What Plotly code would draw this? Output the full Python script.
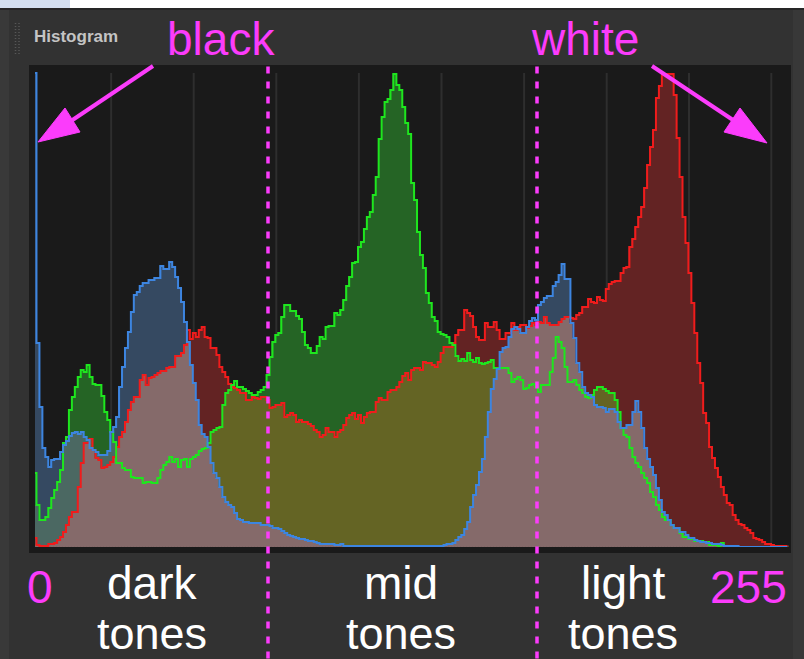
import plotly.graph_objects as go

# ---------------- data (histogram heights, 256 levels) ----------------
levels = list(range(256))

red = [9, 2, 1, 1, 1, 3, 3, 4, 7, 10, 15, 22, 30, 35, 35, 60,
       84, 104, 104, 108, 97, 89, 87, 79, 80, 82, 85, 90, 100, 110, 115, 125,
       137, 145, 150, 150, 167, 172, 162, 169, 170, 172, 174, 176, 176, 179, 180, 180,
       191, 191, 194, 202, 217, 208, 214, 210, 217, 220, 210, 209, 199, 199, 192, 180,
       175, 170, 163, 160, 159, 157, 154, 154, 147, 147, 150, 149, 148, 150, 150, 147,
       139, 140, 142, 142, 144, 130, 132, 134, 132, 125, 127, 125, 125, 123, 121, 117,
       115, 110, 112, 119, 115, 115, 110, 115, 117, 122, 129, 132, 134, 128, 132, 124,
       130, 134, 135, 135, 145, 149, 147, 147, 155, 157, 157, 160, 165, 171, 174, 167,
       177, 179, 179, 177, 185, 184, 184, 182, 180, 185, 194, 200, 200, 200, 204, 212,
       217, 217, 237, 234, 231, 220, 210, 207, 207, 224, 220, 220, 225, 217, 208, 208,
       214, 214, 224, 217, 220, 222, 222, 219, 221, 224, 222, 225, 224, 230, 224, 222,
       222, 222, 225, 228, 230, 230, 229, 228, 232, 234, 240, 240, 248, 245, 244, 250,
       247, 246, 258, 263, 265, 266, 266, 274, 279, 280, 300, 308, 320, 330, 340, 359,
       382, 400, 417, 449, 461, 473, 473, 473, 473, 452, 409, 370, 330, 304, 274, 244,
       214, 184, 164, 134, 124, 100, 89, 79, 70, 60, 52, 44, 42, 32, 27, 23,
       22, 19, 17, 14, 9, 8, 7, 5, 3, 3, 2, 1, 1, 1, 1, 1]

green = [74, 42, 27, 27, 30, 39, 49, 57, 65, 77, 104, 110, 137, 150, 160, 170,
         177, 175, 182, 170, 163, 162, 162, 151, 135, 127, 115, 105, 84, 84, 79, 77,
         77, 70, 69, 69, 69, 64, 65, 65, 64, 64, 69, 77, 82, 85, 90, 85,
         88, 80, 87, 88, 80, 88, 90, 92, 96, 98, 99, 104, 115, 117, 119, 120,
         142, 154, 157, 162, 166, 160, 160, 158, 156, 154, 152, 152, 155, 157, 160, 172,
         190, 205, 212, 214, 230, 242, 242, 236, 236, 231, 228, 215, 202, 199, 194, 194,
         201, 210, 208, 220, 221, 221, 234, 232, 237, 247, 261, 270, 284, 285, 300, 305,
         318, 330, 335, 352, 370, 408, 430, 445, 448, 457, 473, 462, 457, 440, 424, 413,
         364, 347, 315, 292, 279, 254, 244, 230, 226, 215, 213, 212, 210, 204, 202, 191,
         186, 188, 186, 194, 187, 185, 189, 184, 183, 184, 185, 187, 179, 179, 179, 179,
         179, 174, 165, 168, 170, 167, 158, 159, 162, 163, 160, 155, 162, 162, 162, 175,
         189, 210, 205, 199, 180, 165, 165, 167, 162, 157, 154, 150, 149, 152, 157, 160,
         160, 158, 156, 154, 154, 147, 135, 119, 112, 110, 99, 90, 84, 80, 74, 69,
         64, 55, 50, 42, 37, 30, 27, 27, 22, 19, 19, 14, 10, 10, 8, 8,
         6, 6, 6, 5, 5, 2, 2, 2, 1, 4, 0, 0, 0, 0, 0, 0,
         0, 0, 0, 0, 0, 0, 0, 0, 0, 0, 0, 0, 0, 0, 0, 0]

blue = [474, 204, 140, 99, 90, 80, 87, 88, 88, 95, 102, 106, 111, 114, 115, 113,
        115, 110, 107, 99, 97, 95, 92, 92, 92, 96, 115, 120, 130, 160, 180, 199,
        215, 235, 252, 255, 261, 264, 264, 267, 267, 269, 269, 281, 278, 278, 285, 280,
        270, 259, 245, 225, 205, 182, 164, 147, 122, 113, 110, 100, 84, 74, 69, 60,
        50, 45, 42, 40, 34, 28, 27, 25, 25, 24, 24, 24, 24, 22, 22, 22,
        21, 19, 19, 18, 16, 14, 12, 11, 10, 9, 8, 8, 7, 6, 6, 5,
        4, 3, 3, 3, 3, 3, 2, 2, 3, 1, 1, 1, 1, 1, 1, 1,
        1, 1, 1, 1, 1, 1, 1, 1, 1, 1, 1, 1, 1, 1, 1, 1,
        1, 1, 1, 1, 1, 1, 1, 1, 1, 1, 1, 2, 3, 3, 4, 7,
        10, 12, 18, 25, 40, 52, 62, 75, 88, 110, 135, 158, 168, 178, 195, 199,
        200, 210, 218, 220, 218, 214, 214, 220, 226, 229, 227, 242, 245, 249, 251, 251,
        261, 265, 272, 283, 268, 268, 224, 209, 184, 175, 160, 154, 152, 150, 142, 140,
        140, 139, 135, 138, 138, 135, 125, 119, 119, 122, 122, 135, 146, 135, 119, 99,
        88, 80, 72, 59, 47, 35, 32, 27, 22, 19, 19, 15, 15, 12, 9, 9,
        7, 6, 5, 5, 4, 4, 3, 3, 3, 2, 1, 1, 1, 1, 1, 0,
        0, 0, 0, 0, 0, 0, 0, 0, 0, 0, 0, 0, 0, 0, 0, 0]

grid_levels = [25.8, 53.8, 81.8, 109.8, 137.8, 165.8, 193.8, 221.7, 249.6]

# ---------------- styling ----------------
PANEL = "#323232"
PLOT_BG = "#1a1a1a"
GRID = "#2e2e2e"
MAGENTA = "#fb3cfb"

LINE_R = "#f01c1c"
LINE_G = "#1ee61e"
LINE_B = "#3d85e0"

PINK = "#856a6a"
COMBO = {
    frozenset("r"): "#632323",
    frozenset("g"): "#256425",
    frozenset("b"): "#354961",
    frozenset("rg"): "#646424",
    frozenset("rb"): PINK,
    frozenset("gb"): "#4b6862",
}

# overlap segments per level (computed from the three channels)
seg_base = [[], [], []]
seg_len = [[], [], []]
seg_col = [[], [], []]
for i in levels:
    vals = {"r": red[i], "g": green[i], "b": blue[i]}
    order = sorted(vals, key=lambda k: vals[k], reverse=True)
    top, mid, low = order
    seg_base[0].append(0)
    seg_len[0].append(vals[low])
    seg_col[0].append(PINK)
    seg_base[1].append(vals[low])
    seg_len[1].append(vals[mid] - vals[low])
    seg_col[1].append(COMBO[frozenset(top + mid)])
    seg_base[2].append(vals[mid])
    seg_len[2].append(vals[top] - vals[mid])
    seg_col[2].append(COMBO[frozenset(top)])

fig = go.Figure()
for k in range(3):
    fig.add_trace(go.Bar(
        x=levels, y=seg_len[k], base=seg_base[k], width=1.0,
        marker=dict(color=seg_col[k], line=dict(color=seg_col[k], width=1)),
        hoverinfo="skip", showlegend=False))

for vals, col in [(red, LINE_R), (green, LINE_G), (blue, LINE_B)]:
    fig.add_trace(go.Scatter(
        x=levels, y=vals, mode="lines",
        line=dict(color=col, width=2, shape="hvh"),
        hoverinfo="skip", showlegend=False))

# ---------------- layout helpers (pixel -> paper) ----------------
L, R, T, B = 35, 15, 65, 112
W, H = 804, 659
PW, PH = W - L - R, H - T - B


def px(x):
    return (x - L) / PW


def py(y):
    return (H - B - y) / PH


shapes = []
# top strip of the screenshot
shapes.append(dict(type="rect", xref="paper", yref="paper", x0=px(0), x1=px(804),
                   y0=py(0), y1=py(8), fillcolor="#ffffff", line=dict(width=0), layer="below"))
shapes.append(dict(type="rect", xref="paper", yref="paper", x0=px(0), x1=px(70),
                   y0=py(0), y1=py(8), fillcolor="#d3deef", line=dict(width=0), layer="below"))
shapes.append(dict(type="rect", xref="paper", yref="paper", x0=px(0), x1=px(804),
                   y0=py(8), y1=py(10), fillcolor="#262626", line=dict(width=0), layer="below"))
shapes.append(dict(type="rect", xref="paper", yref="paper", x0=px(0), x1=px(9),
                   y0=py(10), y1=py(659), fillcolor="#393939", line=dict(width=0), layer="below"))
shapes.append(dict(type="rect", xref="paper", yref="paper", x0=px(793), x1=px(804),
                   y0=py(10), y1=py(659), fillcolor="#383838", line=dict(width=0), layer="below"))
# grip dots
for gx in (15.5, 19):
    shapes.append(dict(type="line", xref="paper", yref="paper", x0=px(gx), x1=px(gx),
                       y0=py(23), y1=py(55), line=dict(color="#575757", width=1.5, dash="1px,2px"),
                       layer="below"))
# dark histogram frame
shapes.append(dict(type="rect", xref="paper", yref="paper", x0=px(29), x1=px(791),
                   y0=py(65), y1=py(553), fillcolor=PLOT_BG, line=dict(width=0), layer="below"))
# vertical grid
for g in grid_levels:
    shapes.append(dict(type="line", xref="x", yref="y", x0=g, x1=g, y0=0, y1=474,
                       line=dict(color=GRID, width=2), layer="below"))
# magenta dashed separators
for sx in (268, 537):
    shapes.append(dict(type="line", xref="paper", yref="paper", x0=px(sx), x1=px(sx),
                       y0=py(66.5), y1=py(659), line=dict(color=MAGENTA, width=3.5, dash="7px,8px"),
                       layer="above"))
# arrows
arrows = [((153, 66), (71, 121), [(38, 142), (65, 108), (80, 132)]),
          ((652, 66), (733, 120), [(767, 143), (740, 108), (724, 132)])]
for (x0, y0), (x1, y1), tri in arrows:
    shapes.append(dict(type="line", xref="paper", yref="paper", x0=px(x0), y0=py(y0),
                       x1=px(x1), y1=py(y1), line=dict(color=MAGENTA, width=4), layer="above"))
    path = "M {},{} L {},{} L {},{} Z".format(px(tri[0][0]), py(tri[0][1]),
                                               px(tri[1][0]), py(tri[1][1]),
                                               px(tri[2][0]), py(tri[2][1]))
    shapes.append(dict(type="path", xref="paper", yref="paper", path=path,
                       fillcolor=MAGENTA, line=dict(color=MAGENTA, width=1), layer="above"))

FONT = "Liberation Sans, Arial, sans-serif"
annotations = []


def label(text, cx, baseline, color, size=46):
    annotations.append(dict(text=text, xref="paper", yref="paper", x=px(cx),
                            y=py(baseline - 0.35 * size), xanchor="center", yanchor="middle",
                            showarrow=False, borderpad=0,
                            font=dict(family=FONT, size=size, color=color)))


label("black", 221, 55, MAGENTA)
label("white", 585, 55, MAGENTA)
label("0", 40, 603, MAGENTA)
label("255", 748, 603, MAGENTA)
label("dark", 152, 599, "#ffffff")
label("tones", 152, 649, "#ffffff", 45)
label("mid", 401, 599, "#ffffff")
label("tones", 401, 649, "#ffffff", 45)
label("light", 623, 599, "#ffffff")
label("tones", 623, 649, "#ffffff", 45)

annotations.append(dict(text="<b>Histogram</b>", xref="paper", yref="paper", x=px(32), y=py(36),
                        xanchor="left", yanchor="middle", showarrow=False,
                        font=dict(family=FONT, size=17, color="#c4c4c4")))

fig.update_layout(
    width=W, height=H,
    margin=dict(l=L, r=R, t=T, b=B, pad=0),
    paper_bgcolor=PANEL,
    plot_bgcolor="rgba(0,0,0,0)",
    barmode="overlay", bargap=0,
    showlegend=False,
    xaxis=dict(range=[0, 255.6], visible=False, fixedrange=True),
    yaxis=dict(range=[0, PH], visible=False, fixedrange=True),
    shapes=shapes,
    annotations=annotations,
)

fig.write_html("out.html",
               config={"displayModeBar": False},
               post_script="document.body.style.margin='0';document.body.style.overflow='hidden';")
